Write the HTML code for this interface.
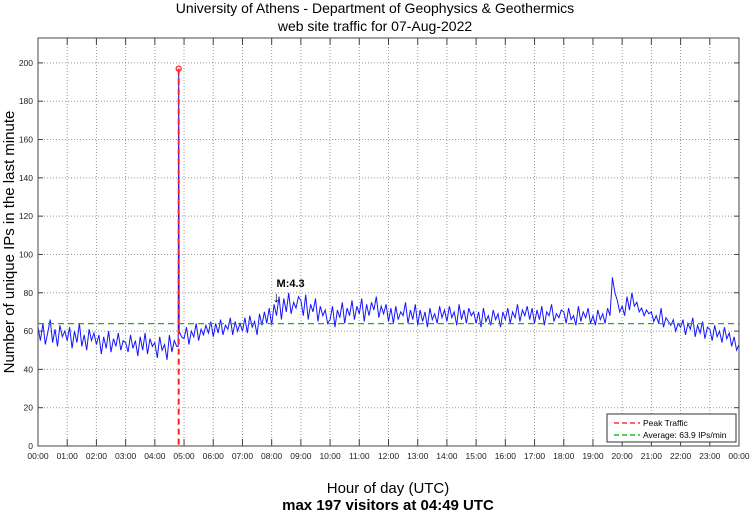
<!DOCTYPE html>
<html><head><meta charset="utf-8"><style>
body{margin:0;background:#fff;}
svg{display:block;font-family:"Liberation Sans",sans-serif;}
</style></head><body>
<svg id="chart" width="750" height="511">
<text x="375" y="13" text-anchor="middle" font-size="14">University of Athens - Department of Geophysics &amp; Geothermics</text>
<text x="375" y="31" text-anchor="middle" font-size="14">web site traffic for 07-Aug-2022</text>
<text transform="translate(14,242) rotate(-90)" text-anchor="middle" font-size="15">Number of unique IPs in the last minute</text>
<text x="388" y="493" text-anchor="middle" font-size="15">Hour of day (UTC)</text>
<text x="388" y="510" text-anchor="middle" font-size="15" font-weight="bold">max 197 visitors at 04:49 UTC</text>
<g id="grid"></g>
<g id="series"></g>
<g id="overlay"></g>
<rect x="38" y="38" width="701" height="408" fill="none" stroke="#444" stroke-width="1"/>
<g>
<rect x="607" y="414" width="129" height="28" fill="#fff" stroke="#333"/>
<line x1="614" y1="423" x2="640" y2="423" stroke="#f33" stroke-width="1.5" stroke-dasharray="5,3"/>
<text x="643" y="426" font-size="8.5">Peak Traffic</text>
<line x1="614" y1="435" x2="640" y2="435" stroke="#2b2" stroke-width="1.5" stroke-dasharray="5,3"/>
<text x="643" y="438" font-size="8.5">Average: 63.9 IPs/min</text>
</g>
</svg>
<script>
const yTicks=[0,20,40,60,80,100,120,140,160,180,200];
const xTickLabels=["00:00","01:00","02:00","03:00","04:00","05:00","06:00","07:00","08:00","09:00","10:00","11:00","12:00","13:00","14:00","15:00","16:00","17:00","18:00","19:00","20:00","21:00","22:00","23:00","00:00"];
// visitors every 5 minutes from 00:00
const visitors=[
62,55,64,53,59,66,54,61,52,63,57,60,
55,62,51,60,54,64,52,58,50,61,55,59,
53,58,48,57,51,60,49,56,52,59,50,55,
54,49,58,51,55,47,57,50,59,48,56,52,
54,46,57,50,53,45,58,49,55,52,60,57,
56,62,53,60,57,64,55,61,58,63,59,65,
57,64,59,66,58,63,61,67,58,65,60,64,
60,67,59,68,62,65,58,69,63,70,64,72,
63,74,68,78,66,77,70,80,69,75,72,78,
76,68,79,66,74,70,77,65,73,68,71,64,
66,73,62,71,67,75,64,72,68,76,66,73,
69,77,65,74,68,75,71,78,67,73,69,74,
65,72,64,73,66,70,68,75,64,71,66,74,
63,71,65,70,62,72,66,69,64,73,67,71,
65,73,67,70,63,74,66,71,64,72,68,70,
64,70,62,72,65,68,63,71,66,69,62,70,
66,72,64,70,67,74,65,71,68,73,66,72,
64,71,66,73,63,70,68,74,65,69,67,71,
70,64,72,66,68,63,73,65,70,67,72,64,
68,63,71,66,69,64,72,68,88,80,76,70,
73,68,78,71,80,73,75,70,72,68,71,69,
70,65,68,64,72,62,67,65,63,66,60,64,
62,66,58,64,61,67,57,63,59,65,56,62,
61,55,63,57,60,54,62,56,59,52,57,50,53];
const stepMinutes=5;
const peakMinute=289, peakValue=197;
const averageValue=63.9;
const quake={minute:490,label:"M:4.3"};

const NS="http://www.w3.org/2000/svg";
const L=38,R=739,T=38,B=446,YMAX=213;
const X=m=>L+(R-L)*m/1440;
const Y=v=>B-(B-T)*v/YMAX;
function mk(tag,attrs,parent){const e=document.createElementNS(NS,tag);for(const k in attrs)e.setAttribute(k,attrs[k]);parent.appendChild(e);return e;}
const grid=document.getElementById('grid'),ser=document.getElementById('series'),ov=document.getElementById('overlay');
yTicks.forEach(v=>{
 const y=Y(v);
 if(v>0){const g=mk('line',{x1:L,x2:R,y1:y,y2:y,stroke:'#999','stroke-dasharray':'1,2'},grid);
 
 }
 mk('line',{x1:L,x2:L+5,y1:y,y2:y,stroke:'#444'},grid);
 mk('line',{x1:R-5,x2:R,y1:y,y2:y,stroke:'#444'},grid);
 const t=mk('text',{x:L-5,y:y+3,'text-anchor':'end','font-size':'8.5',fill:'#222'},grid);t.textContent=v;
 
 
});
xTickLabels.forEach((lab,i)=>{
 const x=X(i*60);
 if(i>0&&i<24){const g=mk('line',{x1:x,x2:x,y1:T,y2:B,stroke:'#999','stroke-dasharray':'1,2'},grid);
 
 }
 mk('line',{x1:x,x2:x,y1:B-7,y2:B,stroke:'#444'},grid);
 mk('line',{x1:x,x2:x,y1:T,y2:T+7,stroke:'#444'},grid);
 const t=mk('text',{x:x,y:B+13,'text-anchor':'middle','font-size':'8.5',fill:'#222'},grid);t.textContent=lab;
 
 
});
const pts=[];
visitors.forEach((v,i)=>{const m=i*stepMinutes;
 if(m>peakMinute&&pts.length&&pts[pts.length-1][0]<peakMinute){pts.push([peakMinute-1,visitors[i-1]]);pts.push([peakMinute,peakValue]);pts.push([peakMinute+1,v]);}
 pts.push([m,v]);});
const line=mk('polyline',{points:pts.map(p=>X(p[0]).toFixed(1)+','+Y(p[1]).toFixed(1)).join(' '),fill:'none',stroke:'#1515ff','stroke-width':'1'},ser);


const avg=mk('line',{x1:L,x2:R,y1:Y(averageValue),y2:Y(averageValue),stroke:'#2a2','stroke-width':'1.3','stroke-dasharray':'6,4'},ov);


const pk=mk('line',{x1:X(peakMinute),x2:X(peakMinute),y1:Y(peakValue),y2:B,stroke:'#f22','stroke-width':'2','stroke-dasharray':'6,4'},ov);


const pc=mk('circle',{cx:X(peakMinute),cy:Y(peakValue),r:2.5,fill:'none',stroke:'#f22','stroke-width':'1.3'},ov);


const qx=X(quake.minute);
const qt=mk('text',{x:qx,y:287,'font-size':'11','font-weight':'bold'},ov);qt.textContent=quake.label;


const qa=mk('text',{x:qx-4,y:302,'font-size':'15'},ov);qa.textContent='↓';


</script>
</body></html>
